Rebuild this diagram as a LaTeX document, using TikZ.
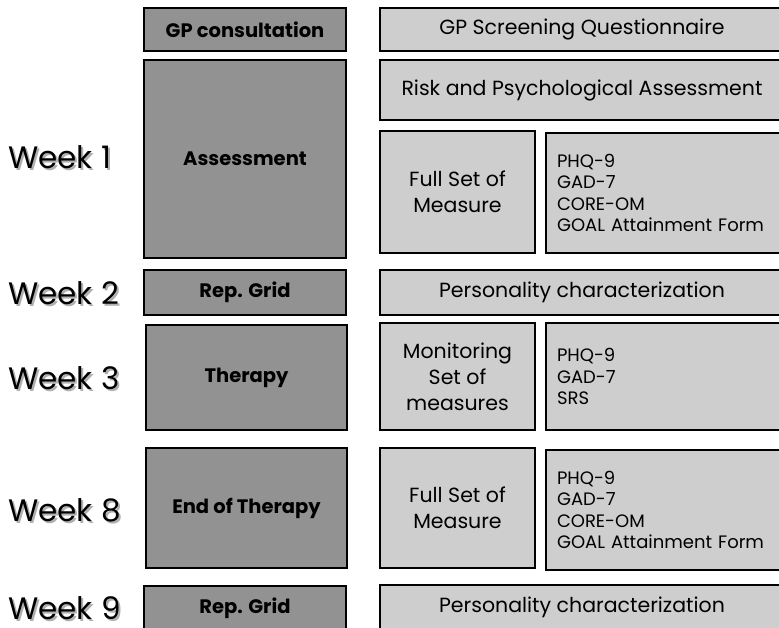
\documentclass[tikz,border=0pt]{standalone}
\usepackage{fontspec}
\setmainfont{Poppins}
\usetikzlibrary{calc}
\definecolor{darkbox}{HTML}{929292}
\definecolor{lightbox}{HTML}{CECECE}
\definecolor{shadowgray}{HTML}{B0B0B0}
\tikzset{
  base/.style={draw=black, line width=1.4pt, inner sep=0pt, outer sep=0pt, anchor=north west, align=center},
  dark/.style={base, fill=darkbox, font=\fontsize{19.5}{24}\selectfont\bfseries},
  light/.style={base, fill=lightbox, font=\fontsize{20.5}{26}\selectfont},
  list/.style={base, fill=lightbox, align=left, inner xsep=11pt, font=\fontsize{18}{21.5}\selectfont},
  week/.style={anchor=west, inner sep=0pt, font=\fontsize{31}{34}\selectfont},
}
\newcommand{\weeklabel}[3]{%
  \node[week, text=shadowgray] at ($(#2)+(2,2)$) {#3};
  \node[week] (#1) at (#2) {#3};}
\begin{document}
\begin{tikzpicture}[x=1pt, y=-1pt]
\useasboundingbox (0,0) rectangle (779,627);
\clip (0,0) rectangle (779,627);
% left column
\node[dark, minimum width=202pt, minimum height=43pt] (gp) at (144,8) {GP consultation};
\node[dark, minimum width=202pt, minimum height=198pt] (assess) at (144,60) {Assessment};
\node[dark, minimum width=202pt, minimum height=45pt] (rep1) at (144,270) {Rep. Grid};
\node[dark, minimum width=201pt, minimum height=105pt] (ther) at (146,325) {Therapy};
\node[dark, minimum width=201pt, minimum height=120pt] (end) at (146,448) {End of Therapy};
\node[dark, minimum width=202pt, minimum height=45pt] (rep2) at (144,586) {Rep. Grid};
% right column
\node[light, minimum width=404pt, minimum height=43pt] (gpq) at (380,8) {GP Screening Questionnaire};
\node[light, minimum width=404pt, minimum height=60pt] (risk) at (380,60) {Risk and Psychological Assessment};
\node[light, minimum width=155pt, minimum height=122pt] (full1) at (380,131) {Full Set of\\Measure};
\node[list, text width=230pt, minimum height=120pt] (list1) at (546,133) {PHQ-9\\GAD-7\\CORE-OM\\GOAL Attainment Form};
\node[light, minimum width=404pt, minimum height=45pt] (pers1) at (380,270) {Personality characterization};
\node[light, minimum width=155pt, minimum height=107pt] (mon) at (380,323) {Monitoring\\Set of\\measures};
\node[list, text width=230pt, minimum height=107pt] (list2) at (546,323) {PHQ-9\\GAD-7\\SRS};
\node[light, minimum width=155pt, minimum height=120pt] (full2) at (380,448) {Full Set of\\Measure};
\node[list, text width=230pt, minimum height=120pt] (list3) at (546,450) {PHQ-9\\GAD-7\\CORE-OM\\GOAL Attainment Form};
\node[light, minimum width=404pt, minimum height=45pt] (pers2) at (380,585) {Personality characterization};
% week labels
\weeklabel{w1}{8,157}{Week 1}
\weeklabel{w2}{8,293}{Week 2}
\weeklabel{w3}{8,378}{Week 3}
\weeklabel{w8}{8,510}{Week 8}
\weeklabel{w9}{8,608}{Week 9}
\end{tikzpicture}
\end{document}
